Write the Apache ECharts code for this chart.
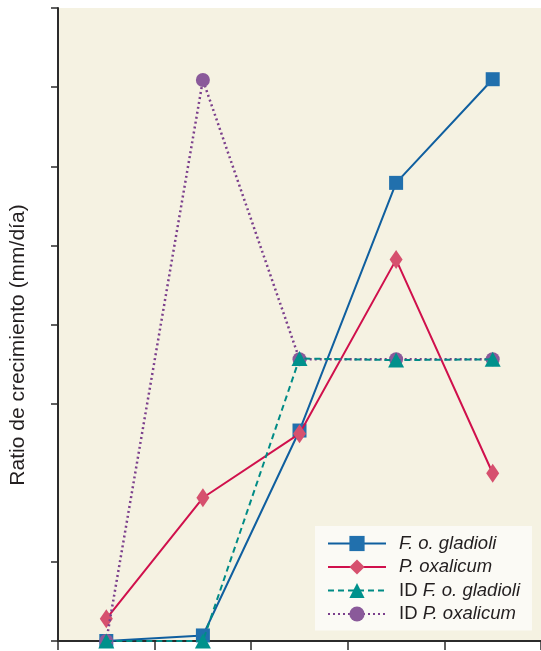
<!DOCTYPE html>
<html>
<head>
<meta charset="utf-8">
<script src="https://cdn.jsdelivr.net/npm/echarts@6/dist/echarts.min.js"></script>
<style>
html,body{margin:0;padding:0;background:#ffffff;}
#chart{width:541px;height:651px;}
</style>
</head>
<body>
<div id="chart"></div>
<script>
var categories = ['1', '2', '3', '4', '5'];
var foGladioli = [0, 0.07, 2.66, 5.79, 7.10];
var pOxalicum = [0.28, 1.81, 2.62, 4.82, 2.12];
var idFoGladioli = [0, 0, 3.57, 3.55, 3.56];
var idPOxalicum = [0, 7.09, 3.56, 3.56, 3.56];
var yTicks = [0, 1, 3, 4, 5, 6, 7, 8];
var seriesNames = ['F. o. gladioli', 'P. oxalicum', 'ID F. o. gladioli', 'ID P. oxalicum'];
var yTitle = 'Ratio de crecimiento (mm/día)';

var chart = echarts.init(document.getElementById('chart'), null, {renderer: 'canvas'});
var FONT = '"Liberation Sans", Arial, Helvetica, sans-serif';

function legendFmt(name) {
  if (name.indexOf('ID ') === 0) return 'ID {i|' + name.slice(3) + '}';
  return '{i|' + name + '}';
}

chart.setOption({
  animation: false,
  backgroundColor: '#ffffff',
  grid: {
    left: 58, right: 0, top: 8, bottom: 10,
    show: true, backgroundColor: '#f5f2e2', borderWidth: 0
  },
  xAxis: {
    type: 'category',
    data: categories,
    boundaryGap: true,
    axisLine: {lineStyle: {color: '#2b2b2b', width: 2}},
    axisTick: {show: true, length: 9, lineStyle: {color: '#2b2b2b', width: 1.5}},
    axisLabel: {show: false},
    splitLine: {show: false}
  },
  yAxis: {
    type: 'value',
    min: 0, max: 8, interval: 1,
    axisLine: {show: true, lineStyle: {color: '#2b2b2b', width: 2}},
    axisTick: {show: true, length: 7, customValues: yTicks, lineStyle: {color: '#2b2b2b', width: 1.5}},
    axisLabel: {show: false},
    splitLine: {show: false}
  },
  graphic: [{
    type: 'text',
    x: 18, y: 345,
    rotation: Math.PI / 2,
    style: {
      text: yTitle,
      fontFamily: FONT,
      fontSize: 21,
      fill: '#231f20',
      align: 'center',
      verticalAlign: 'middle'
    }
  }],
  legend: {
    data: seriesNames,
    orient: 'vertical',
    left: 315, top: 526,
    padding: [8, 12, 7, 12],
    itemGap: 4.5,
    itemWidth: 58,
    itemHeight: 19,
    backgroundColor: '#fbfaf5',
    formatter: legendFmt,
    textStyle: {
      fontFamily: FONT,
      fontSize: 18.5,
      lineHeight: 19,
      color: '#231f20',
      padding: [0, 0, 0, 8],
      rich: {
        i: {fontFamily: FONT, fontSize: 18.5, lineHeight: 19, fontStyle: 'italic', color: '#231f20'}
      }
    }
  },
  series: [
    {
      name: seriesNames[0], type: 'line', data: foGladioli,
      symbol: 'rect', symbolSize: 14,
      lineStyle: {color: '#0f5f9f', width: 2},
      itemStyle: {color: '#2170ad'},
      z: 2
    },
    {
      name: seriesNames[1], type: 'line', data: pOxalicum,
      symbol: 'diamond', symbolSize: [13, 19],
      lineStyle: {color: '#d0104c', width: 2},
      itemStyle: {color: '#d6506e'},
      z: 3
    },
    {
      name: seriesNames[3], type: 'line', data: idPOxalicum,
      symbol: 'circle', symbolSize: 14,
      lineStyle: {color: '#7b3f8c', width: 2.5, type: [2, 3]},
      itemStyle: {color: '#8a5a9a'},
      z: 4
    },
    {
      name: seriesNames[2], type: 'line', data: idFoGladioli,
      symbol: 'triangle', symbolSize: [16, 15],
      lineStyle: {color: '#008b86', width: 2, type: [6, 4]},
      itemStyle: {color: '#00918c'},
      z: 5
    }
  ]
});
</script>
</body>
</html>
